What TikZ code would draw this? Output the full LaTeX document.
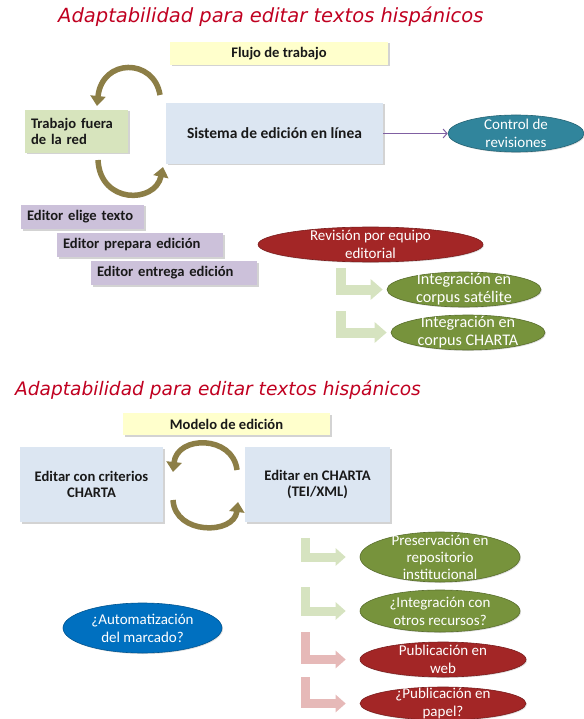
\documentclass[tikz,border=0pt]{standalone}
\usepackage{fontspec}
\setmainfont{Carlito}
\newfontfamily\titlefont{DejaVu Sans}
\usetikzlibrary{arrows.meta,shapes.geometric,shadows}

\definecolor{titlered}{RGB}{192,0,32}
\definecolor{boxyellow}{RGB}{255,255,204}
\definecolor{boxgreen}{RGB}{215,228,189}
\definecolor{boxblue}{RGB}{220,230,242}
\definecolor{boxlilac}{RGB}{204,193,218}
\definecolor{ovteal}{RGB}{49,133,156}
\definecolor{ovred}{RGB}{163,38,38}
\definecolor{ovgreen}{RGB}{119,147,60}
\definecolor{ovblue}{RGB}{0,112,192}
\definecolor{cycolive}{RGB}{140,126,70}
\definecolor{lgreen}{RGB}{214,227,192}
\definecolor{lred}{RGB}{230,185,184}
\definecolor{arrpurple}{RGB}{128,96,162}

\tikzset{
	title/.style={font=\titlefont\itshape\fontsize{19.5}{23}\selectfont, text=titlered, inner sep=0pt},
	box/.style={rectangle, inner sep=0pt, font=\bfseries\fontsize{14.6}{16.5}\selectfont, text=black!90,
		drop shadow={shadow xshift=1.5pt, shadow yshift=-1.5pt, opacity=0.35}},
	leftbox/.style={box, align=left, inner xsep=6pt},
	oval/.style={ellipse, inner sep=0pt, draw=#1!75!black, line width=0.6pt, fill=#1,
		drop shadow={shadow xshift=1pt, shadow yshift=-1pt, opacity=0.25}},
	ovaltext/.style={text=white, align=center, inner sep=0pt, font=\fontsize{15}{18}\selectfont},
	cyclearrow/.style={line width=5.5pt, color=cycolive, -{Triangle[width=15pt,length=10pt]}},
	bigL/.style={line width=10pt, color=#1, shorten >=4pt, -{Triangle[width=20pt,length=12pt]}},
	smallL/.style={line width=9pt, color=#1, shorten >=14pt, -{Triangle[width=17pt,length=10pt]}}
}

\begin{document}
\begin{tikzpicture}[x=1pt, y=-1pt]
			%%%%% START %%%%%
			\useasboundingbox (0,0) rectangle (583,719);
			
			% flujo de trabajo
			\node[title, anchor=base west] (tituloflujo) at (58,23) {Adaptabilidad para editar textos hispánicos};
			\node[box, fill=boxyellow, minimum width=218pt, minimum height=23pt] (flujo) at (279,53.5) {Flujo de trabajo};
			\node[leftbox, fill=boxgreen, text width=91pt, minimum height=43pt] (fuera) at (76.5,131.5) {Trabajo fuera\\de la red};
			\node[box, fill=boxblue, minimum width=217pt, minimum height=61pt, font=\bfseries\fontsize{15.5}{17}\selectfont] (sistema) at (274.5,133.5) {Sistema de edición en línea};
			\node[oval=ovteal, minimum width=136pt, minimum height=37pt,
				label={[ovaltext]center:Control de\\revisiones}] (control) at (516,133.5) {};
			\draw[line width=1pt, color=arrpurple, -{Straight Barb[length=4pt,width=9pt]}] (sistema) -- (control);
			
			\coordinate (fa) at (160,95);
			\coordinate (fb) at (97,106);
			\coordinate (fc) at (98,160);
			\coordinate (fd) at (163,167);
			\draw[cyclearrow] (fa) .. controls (154,58) and (102,58) .. (fb);
			\draw[cyclearrow] (fc) .. controls (100,204) and (155,204) .. (fd);
			
			\node[leftbox, fill=boxlilac, text width=111pt, minimum height=24pt] (elige) at (82.5,217) {Editor elige texto};
			\node[leftbox, fill=boxlilac, text width=154pt, minimum height=24pt] (prepara) at (140,245) {Editor prepara edición};
			\node[leftbox, fill=boxlilac, text width=154pt, minimum height=24pt] (entrega) at (174,273) {Editor entrega edición};
			
			\node[oval=ovred, minimum width=225pt, minimum height=35pt,
				label={[ovaltext]center:Revisión por equipo\\editorial}] (revision) at (370.5,244.5) {};
			\node[oval=ovgreen, minimum width=154pt, minimum height=35pt,
				label={[ovaltext, font=\fontsize{16.2}{18}\selectfont]center:Integración en\\corpus satélite}] (satelite) at (464,289.5) {};
			\node[oval=ovgreen, minimum width=154pt, minimum height=35pt,
				label={[ovaltext, font=\fontsize{16.2}{18}\selectfont]center:Integración en\\corpus CHARTA}] (charta) at (468,332.5) {};
			
			\coordinate (la) at (341,268);
			\coordinate (lb) at (341,311);
			\draw[bigL=lgreen] (la) |- (satelite);
			\draw[bigL=lgreen] (lb) |- (charta);
			
			% modelo de edicion
			\node[title, anchor=base west, font=\titlefont\itshape\fontsize{18.6}{22}\selectfont] (titulomodelo) at (15,395) {Adaptabilidad para editar textos hispánicos};
			\node[box, fill=boxyellow, minimum width=207pt, minimum height=22pt] (modelo) at (226.5,424) {Modelo de edición};
			\node[box, fill=boxblue, align=center, minimum width=143pt, minimum height=75pt] (criterios) at (91.5,484.5) {Editar con criterios\\CHARTA};
			\node[box, fill=boxblue, align=center, minimum width=145pt, minimum height=75pt] (teixml) at (317.5,484.5) {Editar en CHARTA\\(TEI/XML)};
			
			\coordinate (ma) at (237,470);
			\coordinate (mb) at (173,472);
			\coordinate (mc) at (173,500);
			\coordinate (md) at (238,502);
			\draw[cyclearrow] (ma) .. controls (233,435) and (177,435) .. (mb);
			\draw[cyclearrow] (mc) .. controls (175,535) and (234,535) .. (md);
			
			\node[oval=ovgreen, minimum width=160pt, minimum height=50pt,
				label={[ovaltext, font=\fontsize{15}{17}\selectfont]center:Preservación en\\repositorio\\institucional}] (preserv) at (440,557) {};
			\node[oval=ovgreen, minimum width=160pt, minimum height=42pt,
				label={[ovaltext]center:¿Integración con\\otros recursos?}] (otros) at (440,611) {};
			\node[oval=ovred, minimum width=166pt, minimum height=35pt,
				label={[ovaltext]center:Publicación en\\web}] (web) at (443,659.5) {};
			\node[oval=ovred, minimum width=166pt, minimum height=33pt,
				label={[ovaltext]center:¿Publicación en\\papel?}] (papel) at (443,703.5) {};
			\node[oval=ovblue, minimum width=159pt, minimum height=50pt,
				label={[ovaltext]center:¿Automatización\\del marcado?}] (automat) at (142.5,628) {};
			
			\coordinate (pa) at (305.5,538);
			\coordinate (pb) at (305.5,587);
			\coordinate (pc) at (305.5,632);
			\coordinate (pd) at (305.5,677);
			\draw[smallL=lgreen] (pa) |- (preserv);
			\draw[smallL=lgreen] (pb) |- (otros);
			\draw[smallL=lred] (pc) |- (web);
			\draw[smallL=lred] (pd) |- (papel);
			
			%%%%% END %%%%%
\end{tikzpicture}
\end{document}
